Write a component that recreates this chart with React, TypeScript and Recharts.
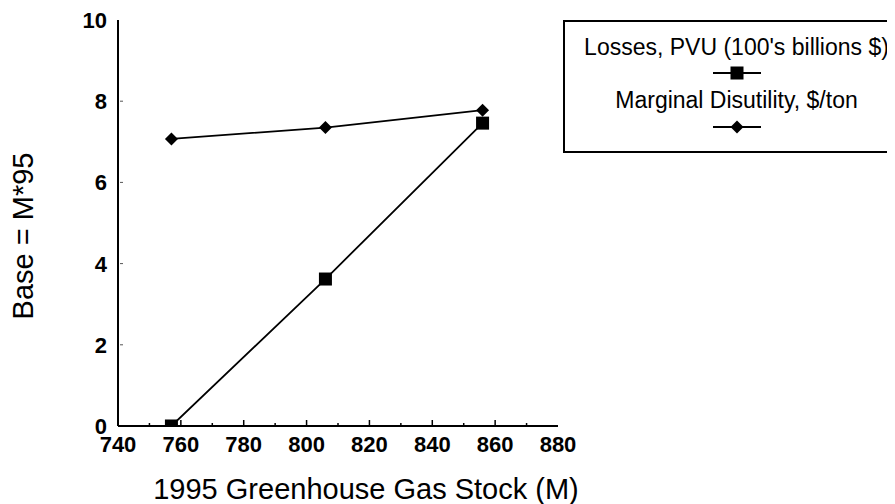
import React from "react";
import { LineChart, Line, XAxis, YAxis, Legend, Label } from "recharts";

// values
const stockLevels = [757, 806, 856];
const lossesPVU = [0, 3.62, 7.46];
const marginalDisutility = [7.07, 7.35, 7.78];

const xTicks = [740, 750, 760, 770, 780, 790, 800, 810, 820, 830, 840, 850, 860, 870, 880];
const yTicks = [0, 2, 4, 6, 8, 10];

const lossesName = "Losses, PVU (100's billions $)";
const disutilityName = "Marginal Disutility, $/ton";

const data = stockLevels.map((stock, i) => ({
  stock,
  losses: lossesPVU[i],
  disutility: marginalDisutility[i],
}));

const FONT = '"Liberation Sans", Arial, Helvetica, sans-serif';

const SquareDot = (props: any) => {
  const { cx, cy } = props;
  if (cx == null || cy == null) return null;
  return <rect x={cx - 6.5} y={cy - 6.5} width={13} height={13} fill="#000" />;
};

const DiamondDot = (props: any) => {
  const { cx, cy } = props;
  if (cx == null || cy == null) return null;
  return (
    <polygon
      points={`${cx},${cy - 6.5} ${cx + 6.5},${cy} ${cx},${cy + 6.5} ${cx - 6.5},${cy}`}
      fill="#000"
    />
  );
};

const XTick = ({ x, y, payload }: any) => {
  const v = payload.value;
  const major = v % 20 === 0;
  return (
    <g>
      {v > 740 && v < 880 && (
        <line x1={x} x2={x} y1={y} y2={y - (major ? 6 : 3)} stroke="#000" strokeWidth={1.5} />
      )}
      {major && (
        <text x={x} y={y + 26} textAnchor="middle" fontSize={22} fontWeight="bold" fontFamily={FONT} fill="#000">
          {v}
        </text>
      )}
    </g>
  );
};

const YTick = ({ x, y, payload }: any) => (
  <g>
    {payload.value > 0 && payload.value < 10 && (
      <line x1={x + 2} x2={x + 5} y1={y} y2={y} stroke="#555" strokeWidth={1} />
    )}
    <text x={x - 11} y={y + 8} textAnchor="end" fontSize={22} fontWeight="bold" fontFamily={FONT} fill="#000">
      {payload.value}
    </text>
  </g>
);

const Symbol = ({ kind }: { kind: "square" | "diamond" }) => (
  <svg width={50} height={24} style={{ display: "block", margin: "0 auto" }}>
    <line x1={1} x2={49} y1={12} y2={12} stroke="#000" strokeWidth={2} />
    {kind === "square" ? <SquareDot cx={25} cy={12} /> : <DiamondDot cx={25} cy={12} />}
  </svg>
);

const LegendBox = () => (
  <div
    style={{
      border: "2px solid #000",
      borderRight: "none",
      background: "#fff",
      fontFamily: FONT,
      fontSize: 23,
      color: "#000",
      textAlign: "center",
      height: 133,
      boxSizing: "border-box",
      paddingTop: 11,
      whiteSpace: "nowrap",
    }}
  >
    <div style={{ height: 28, lineHeight: "28px" }}>{lossesName}</div>
    <Symbol kind="square" />
    <div style={{ height: 30, lineHeight: "30px" }}>{disutilityName}</div>
    <Symbol kind="diamond" />
  </div>
);

export default function App() {
  return (
    <div style={{ width: 887, height: 496, overflow: "hidden", position: "relative" }}>
      <LineChart width={887} height={496} data={data} margin={{ top: 12, right: 337, bottom: 0, left: 0 }}>
        <XAxis
          dataKey="stock"
          type="number"
          domain={[740, 880]}
          ticks={xTicks}
          interval={0}
          tick={<XTick />}
          tickLine={false}
          tickSize={0}
          tickMargin={0}
          height={78}
          axisLine={{ stroke: "#000", strokeWidth: 2 }}
        >
          <Label
            value="1995 Greenhouse Gas Stock (M)"
            position="center"
            dx={28}
            dy={24}
            style={{ fontSize: 29, fontFamily: FONT, fill: "#000" }}
          />
        </XAxis>
        <XAxis
          xAxisId="top"
          orientation="top"
          type="number"
          domain={[740, 880]}
          height={0}
          tick={false}
          tickLine={false}
          axisLine={{ stroke: "#000", strokeWidth: 1.5 }}
        />
        <YAxis
          type="number"
          domain={[0, 10]}
          ticks={yTicks}
          allowDataOverflow
          interval={0}
          tick={<YTick />}
          tickLine={false}
          tickSize={0}
          tickMargin={0}
          width={110}
          axisLine={{ stroke: "#000", strokeWidth: 2 }}
        >
          <Label
            value="Base = M*95"
            position="center"
            angle={-90}
            dx={-40}
            dy={13}
            style={{ fontSize: 29, fontFamily: FONT, fill: "#000", textAnchor: "middle" }}
          />
        </YAxis>
        <YAxis
          yAxisId="right"
          orientation="right"
          domain={[0, 10]}
          width={0}
          tick={false}
          tickLine={false}
          axisLine={{ stroke: "#000", strokeWidth: 1.5 }}
        />
        <Legend
          content={<LegendBox />}
          layout="horizontal"
          verticalAlign="middle"
          align="center"
          wrapperStyle={{ top: 12, left: 555, width: 345 }}
        />
        <Line
          type="linear"
          dataKey="disutility"
          name={disutilityName}
          stroke="#000"
          strokeWidth={1.8}
          dot={<DiamondDot />}
          activeDot={false}
          isAnimationActive={false}
        />
        <Line
          type="linear"
          dataKey="losses"
          name={lossesName}
          stroke="#000"
          strokeWidth={1.8}
          dot={<SquareDot />}
          activeDot={false}
          isAnimationActive={false}
        />
      </LineChart>
    </div>
  );
}
